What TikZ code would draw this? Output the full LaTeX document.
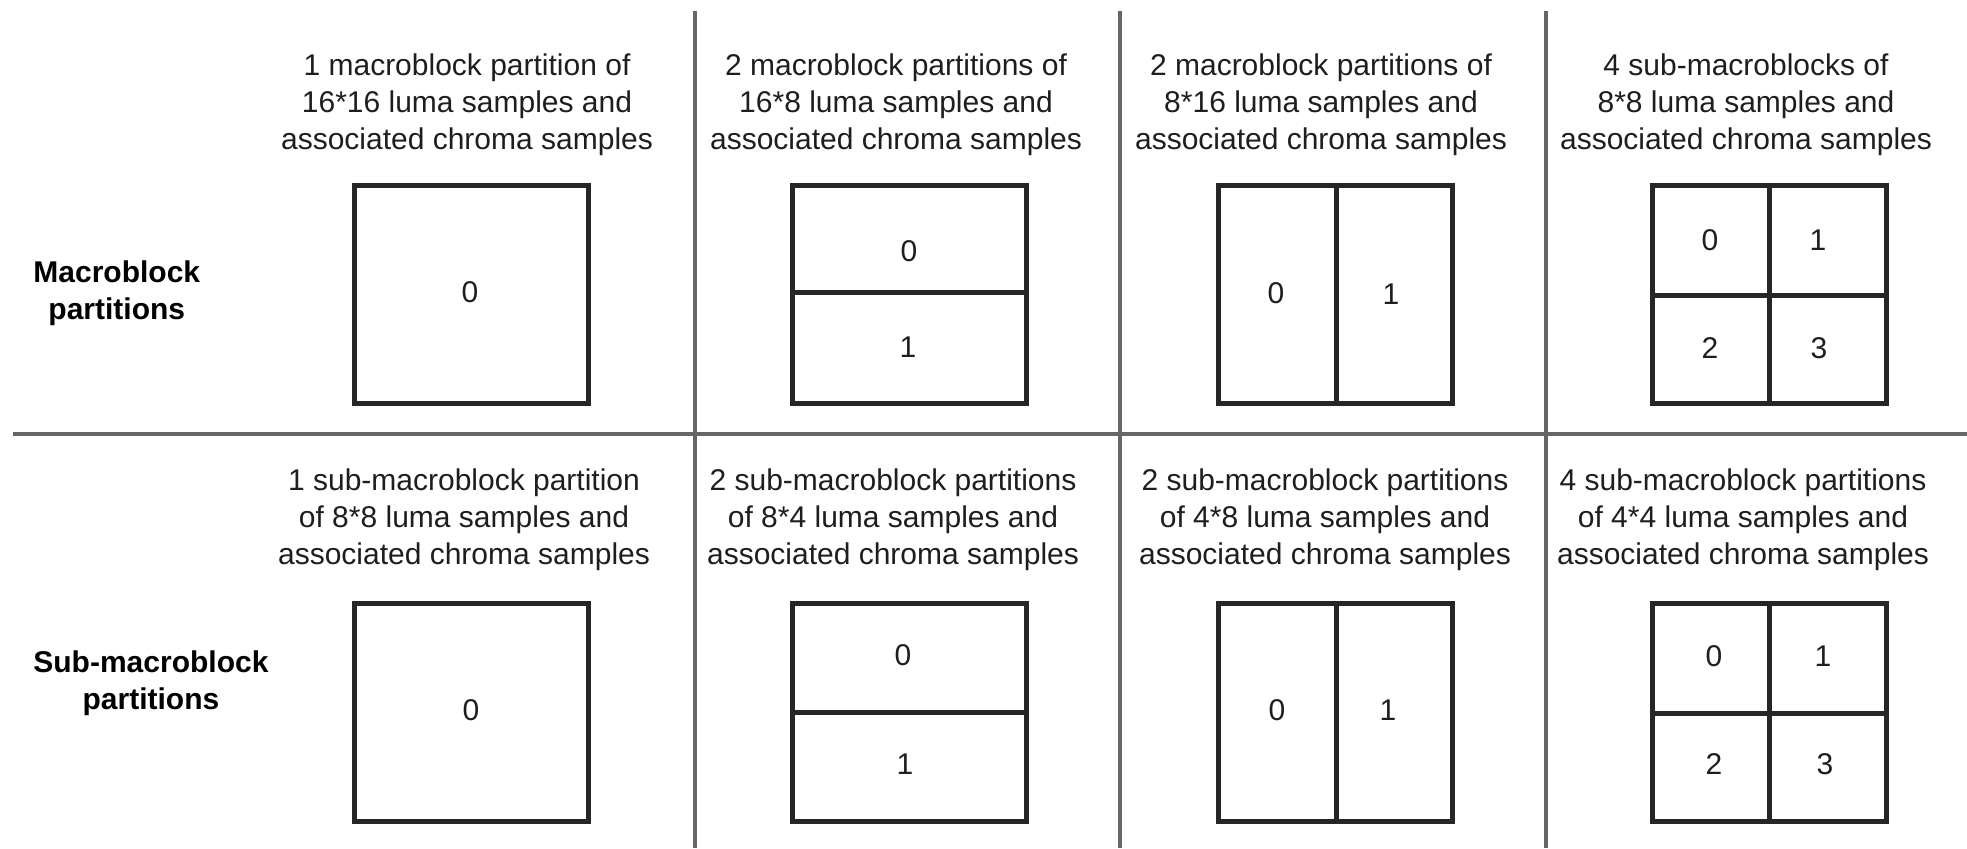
\documentclass[tikz,border=0pt]{standalone}
\usepackage{fontspec}
\setmainfont{Liberation Sans}
\usepackage{tikz}
\definecolor{rulegray}{HTML}{666666}
\definecolor{boxline}{HTML}{262626}
\definecolor{inktext}{HTML}{1E1E1E}

\begin{document}
\begin{tikzpicture}[x=0.5pt,y=-0.5pt,
  rule/.style={draw=rulegray,line width=1.75pt},
  part/.style={draw=boxline,line width=2.5pt},
  caption/.style={align=center,inner sep=0pt,text=inktext,font=\fontsize{15}{18.5}\selectfont},
  num/.style={inner sep=0pt,text=inktext,font=\fontsize{15}{18}\selectfont},
  rowlabel/.style={align=center,inner sep=0pt,anchor=west,font=\bfseries\fontsize{15}{18.5}\selectfont}]
\useasboundingbox (0,0) rectangle (1967,848);
% table rules
\draw[rule] (13,434) -- (1967,434);
\draw[rule] (695,11) -- (695,848);
\draw[rule] (1120,11) -- (1120,848);
\draw[rule] (1546,11) -- (1546,848);
% row labels
\node[rowlabel] (mbrow) at (33,293) {Macroblock\\partitions};
\node[rowlabel] (subrow) at (33,683) {Sub-macroblock\\partitions};
% macroblock partitions
\node[caption] (capA) at (467,105) {1 macroblock partition of\\16*16 luma samples and\\associated chroma samples};
\node[caption] (capB) at (896,105) {2 macroblock partitions of\\16*8 luma samples and\\associated chroma samples};
\node[caption] (capC) at (1321,105) {2 macroblock partitions of\\8*16 luma samples and\\associated chroma samples};
\node[caption] (capD) at (1746,105) {4 sub-macroblocks of\\8*8 luma samples and\\associated chroma samples};
\draw[part] (354,185) rectangle (588,403);
\draw[part] (792,185) rectangle (1026,403);
\draw[part] (792,292) -- (1026,292);
\draw[part] (1218,185) rectangle (1452,403);
\draw[part] (1336,185) -- (1336,403);
\draw[part] (1652,185) rectangle (1886,403);
\draw[part] (1769,185) -- (1769,403);
\draw[part] (1652,295) -- (1886,295);
\node[num] (mbA0) at (470,292) {0};
\node[num] (mbB0) at (909,251) {0};
\node[num] (mbB1) at (908,347) {1};
\node[num] (mbC0) at (1276,293) {0};
\node[num] (mbC1) at (1391,294) {1};
\node[num] (mbD0) at (1710,240) {0};
\node[num] (mbD1) at (1818,240) {1};
\node[num] (mbD2) at (1710,348) {2};
\node[num] (mbD3) at (1819,348) {3};
% sub-macroblock partitions
\node[caption] (capE) at (464,520) {1 sub-macroblock partition\\of 8*8 luma samples and\\associated chroma samples};
\node[caption] (capF) at (893,520) {2 sub-macroblock partitions\\of 8*4 luma samples and\\associated chroma samples};
\node[caption] (capG) at (1325,520) {2 sub-macroblock partitions\\of 4*8 luma samples and\\associated chroma samples};
\node[caption] (capH) at (1743,520) {4 sub-macroblock partitions\\of 4*4 luma samples and\\associated chroma samples};
\draw[part] (354,603) rectangle (588,821);
\draw[part] (792,603) rectangle (1026,821);
\draw[part] (792,712) -- (1026,712);
\draw[part] (1218,603) rectangle (1452,821);
\draw[part] (1336,603) -- (1336,821);
\draw[part] (1652,603) rectangle (1886,821);
\draw[part] (1769,603) -- (1769,821);
\draw[part] (1652,713) -- (1886,713);
\node[num] (sbE0) at (471,710) {0};
\node[num] (sbF0) at (903,655) {0};
\node[num] (sbF1) at (905,764) {1};
\node[num] (sbG0) at (1277,710) {0};
\node[num] (sbG1) at (1388,710) {1};
\node[num] (sbH0) at (1714,656) {0};
\node[num] (sbH1) at (1823,656) {1};
\node[num] (sbH2) at (1714,764) {2};
\node[num] (sbH3) at (1825,764) {3};
\end{tikzpicture}
\end{document}
